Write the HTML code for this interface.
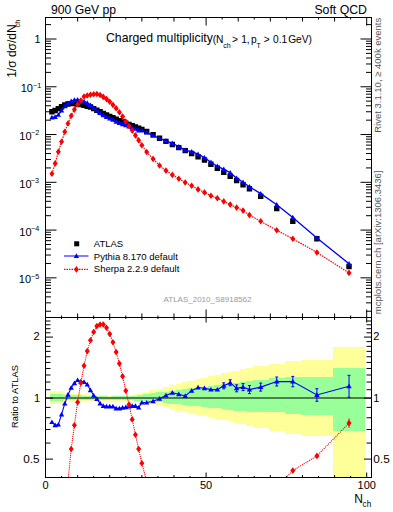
<!DOCTYPE html><html><head><meta charset="utf-8"><style>html,body{margin:0;padding:0;background:#fff;width:393px;height:512px;overflow:hidden;position:relative}</style></head><body><svg width="393" height="512" viewBox="0 0 393 512" style="position:absolute;left:0;top:0">
<rect width="393" height="512" fill="#fff"/>
<path d="M50.32,391.10H53.55V404.30H50.32ZM53.53,391.10H56.76V404.30H53.53ZM56.74,391.10H59.97V404.30H56.74ZM59.95,391.10H63.19V404.30H59.95ZM63.17,393.10H66.40V402.30H63.17ZM66.38,393.27H69.61V402.19H66.38ZM69.59,393.43H72.82V402.08H69.59ZM72.80,393.60H76.03V401.97H72.80ZM76.01,393.77H79.25V401.86H76.01ZM79.23,393.93H82.46V401.74H79.23ZM82.44,394.10H85.67V401.63H82.44ZM85.65,394.27H88.88V401.52H85.65ZM88.86,394.43H92.09V401.41H88.86ZM92.07,394.60H95.31V401.30H92.07ZM95.29,394.78H98.52V401.26H95.29ZM98.50,394.96H101.73V401.22H98.50ZM101.71,395.14H104.94V401.18H101.71ZM104.92,395.32H108.15V401.14H104.92ZM108.13,395.50H111.37V401.10H108.13ZM111.35,395.44H114.58V401.14H111.35ZM114.56,395.39H117.79V401.19H114.56ZM117.77,395.33H121.00V401.23H117.77ZM120.98,395.27H124.21V401.27H120.98ZM124.19,395.21H127.43V401.31H124.19ZM127.41,395.16H130.64V401.36H127.41ZM130.62,395.10H133.85V401.40H130.62ZM133.83,394.37H137.06V401.76H133.83ZM137.04,393.65H140.27V402.13H137.04ZM140.25,392.92H143.49V402.49H140.25ZM143.47,391.83H149.91V403.04H143.47ZM149.89,390.28H156.33V404.19H149.89ZM156.31,388.65H162.76V405.77H156.31ZM162.74,387.01H169.18V407.35H162.74ZM169.16,385.37H175.61V408.94H169.16ZM175.59,383.74H182.03V410.52H175.59ZM182.01,382.10H188.45V412.10H182.01ZM188.43,380.66H194.88V413.43H188.43ZM194.86,379.22H201.30V414.77H194.86ZM201.28,377.78H207.73V416.10H201.28ZM207.71,376.33H214.15V417.43H207.71ZM214.13,374.89H220.57V418.77H214.13ZM220.55,373.44H227.00V420.12H220.55ZM226.98,371.98H233.42V421.49H226.98ZM233.40,370.52H239.85V422.86H233.40ZM239.83,369.06H246.27V424.23H239.83ZM246.25,367.60H252.69V425.60H246.25ZM252.67,365.95H268.75V427.86H252.67ZM268.73,363.60H284.81V431.10H268.73ZM284.79,360.60H300.87V434.40H284.79ZM300.85,359.90H332.99V435.50H300.85ZM332.97,347.00H365.11V477.50H332.97Z" fill="#ffff99" shape-rendering="crispEdges"/>
<path d="M50.32,394.20H53.55V401.30H50.32ZM53.53,394.20H56.76V401.30H53.53ZM56.74,394.20H59.97V401.30H56.74ZM59.95,394.20H63.19V401.30H59.95ZM63.17,394.70H66.40V400.30H63.17ZM66.38,394.83H69.61V400.28H66.38ZM69.59,394.97H72.82V400.26H69.59ZM72.80,395.10H76.03V400.23H72.80ZM76.01,395.23H79.25V400.21H76.01ZM79.23,395.37H82.46V400.19H79.23ZM82.44,395.50H85.67V400.17H82.44ZM85.65,395.63H88.88V400.14H85.65ZM88.86,395.77H92.09V400.12H88.86ZM92.07,395.90H95.31V400.10H92.07ZM95.29,396.02H98.52V400.10H95.29ZM98.50,396.14H101.73V400.10H98.50ZM101.71,396.26H104.94V400.10H101.71ZM104.92,396.38H108.15V400.10H104.92ZM108.13,396.50H111.37V400.10H108.13ZM111.35,396.46H114.58V400.14H111.35ZM114.56,396.41H117.79V400.19H114.56ZM117.77,396.37H121.00V400.23H117.77ZM120.98,396.33H124.21V400.27H120.98ZM124.19,396.29H127.43V400.31H124.19ZM127.41,396.24H130.64V400.36H127.41ZM130.62,396.20H133.85V400.40H130.62ZM133.83,395.73H137.06V400.53H133.83ZM137.04,395.25H140.27V400.65H137.04ZM140.25,394.78H143.49V400.78H140.25ZM143.47,394.07H149.91V400.97H143.47ZM149.89,393.19H156.33V401.46H149.89ZM156.31,392.37H162.76V402.19H156.31ZM162.74,391.55H169.18V402.92H162.74ZM169.16,390.74H175.61V403.65H169.16ZM175.59,389.92H182.03V404.37H175.59ZM182.01,389.10H188.45V405.10H182.01ZM188.43,388.33H194.88V405.77H188.43ZM194.86,387.55H201.30V406.43H194.86ZM201.28,386.78H207.73V407.10H201.28ZM207.71,386.00H214.15V407.77H207.71ZM214.13,385.23H220.57V408.43H214.13ZM220.55,384.40H227.00V409.13H220.55ZM226.98,383.50H233.42V409.88H226.98ZM233.40,382.60H239.85V410.62H233.40ZM239.83,381.70H246.27V411.36H239.83ZM246.25,380.80H252.69V412.10H246.25ZM252.67,379.69H268.75V412.10H252.67ZM268.73,378.10H284.81V412.10H268.73ZM284.79,376.90H300.87V413.70H284.79ZM300.85,376.90H332.99V415.00H300.85ZM332.97,368.10H365.11V431.10H332.97Z" fill="#99ff99" shape-rendering="crispEdges"/>
<line x1="45.5" y1="398.0" x2="371.5" y2="398.0" stroke="#000" stroke-width="1"/>
<defs><clipPath id="cm"><rect x="45.5" y="17.5" width="326.0" height="300.0"/></clipPath><clipPath id="cr"><rect x="45.5" y="317.5" width="326.0" height="160.0"/></clipPath></defs>
<g clip-path="url(#cm)">
<polyline points="51.92,173.70 55.14,163.40 58.35,151.70 61.56,141.70 64.77,131.70 67.98,123.50 71.20,115.70 74.41,109.60 77.62,104.50 80.83,100.60 84.04,96.50 87.26,95.50 90.47,94.75 93.68,94.20 96.89,94.00 100.10,95.00 103.32,96.90 106.53,99.10 109.74,101.70 112.95,104.90 116.16,108.20 119.38,112.30 122.59,116.50 125.80,121.50 129.01,126.00 132.22,130.60 135.44,135.40 138.65,140.30 141.86,145.20 146.68,152.00 153.10,158.90 159.53,165.50 165.95,170.60 172.37,174.90 178.80,178.70 185.22,182.50 191.65,185.80 198.07,189.40 204.49,192.40 210.92,195.70 217.34,198.20 223.77,201.40 230.19,204.60 236.61,207.60 243.04,210.60 249.46,215.10 260.70,221.30 276.76,230.30 292.82,238.80 316.91,252.50 349.03,272.90" fill="none" stroke="#f00" stroke-width="1.2" stroke-dasharray="1.5,1"/>
<path d="M49.22,109.10h5.40v5.40h-5.40ZM52.44,107.80h5.40v5.40h-5.40ZM55.65,105.90h5.40v5.40h-5.40ZM58.86,104.00h5.40v5.40h-5.40ZM62.07,102.30h5.40v5.40h-5.40ZM65.28,101.30h5.40v5.40h-5.40ZM68.50,100.90h5.40v5.40h-5.40ZM71.71,100.80h5.40v5.40h-5.40ZM74.92,101.30h5.40v5.40h-5.40ZM78.13,101.90h5.40v5.40h-5.40ZM81.34,102.60h5.40v5.40h-5.40ZM84.56,103.50h5.40v5.40h-5.40ZM87.77,104.30h5.40v5.40h-5.40ZM90.98,105.90h5.40v5.40h-5.40ZM94.19,107.50h5.40v5.40h-5.40ZM97.40,109.10h5.40v5.40h-5.40ZM100.62,110.70h5.40v5.40h-5.40ZM103.83,112.20h5.40v5.40h-5.40ZM107.04,113.70h5.40v5.40h-5.40ZM110.25,115.10h5.40v5.40h-5.40ZM113.46,116.50h5.40v5.40h-5.40ZM116.68,117.90h5.40v5.40h-5.40ZM119.89,119.20h5.40v5.40h-5.40ZM123.10,120.50h5.40v5.40h-5.40ZM126.31,121.80h5.40v5.40h-5.40ZM129.52,123.10h5.40v5.40h-5.40ZM132.74,124.30h5.40v5.40h-5.40ZM135.95,125.50h5.40v5.40h-5.40ZM139.16,126.70h5.40v5.40h-5.40ZM143.98,128.80h5.40v5.40h-5.40ZM150.40,132.10h5.40v5.40h-5.40ZM156.83,135.50h5.40v5.40h-5.40ZM163.25,138.70h5.40v5.40h-5.40ZM169.67,141.80h5.40v5.40h-5.40ZM176.10,144.90h5.40v5.40h-5.40ZM182.52,147.90h5.40v5.40h-5.40ZM188.95,150.80h5.40v5.40h-5.40ZM195.37,154.00h5.40v5.40h-5.40ZM201.79,157.30h5.40v5.40h-5.40ZM208.22,161.50h5.40v5.40h-5.40ZM214.64,165.50h5.40v5.40h-5.40ZM221.07,169.50h5.40v5.40h-5.40ZM227.49,173.60h5.40v5.40h-5.40ZM233.91,177.80h5.40v5.40h-5.40ZM240.34,182.10h5.40v5.40h-5.40ZM246.76,186.10h5.40v5.40h-5.40ZM258.00,193.50h5.40v5.40h-5.40ZM274.06,205.90h5.40v5.40h-5.40ZM290.12,218.60h5.40v5.40h-5.40ZM314.21,236.00h5.40v5.40h-5.40ZM346.33,263.80h5.40v5.40h-5.40Z" fill="#000"/>
<polyline points="51.92,117.46 55.14,116.91 58.35,114.85 61.56,110.54 64.77,106.30 67.98,103.20 71.20,101.15 74.41,100.01 77.62,99.76 80.83,100.66 84.04,101.51 87.26,102.99 90.47,105.16 93.68,107.99 96.89,110.39 100.10,113.05 103.32,115.24 106.53,116.88 109.74,118.38 112.95,119.78 116.16,121.63 119.38,123.03 122.59,124.19 125.80,125.34 129.01,126.48 132.22,127.64 135.44,128.84 138.65,130.44 141.86,130.46 146.68,132.56 153.10,135.53 159.53,138.34 165.95,140.79 172.37,143.25 178.80,146.68 185.22,150.11 191.65,151.76 198.07,154.20 204.49,157.67 210.92,162.20 217.34,166.20 223.77,169.30 230.19,172.67 236.61,178.19 243.04,182.21 249.46,186.80 260.70,193.61 276.76,204.69 292.82,217.41 316.91,237.97 349.03,263.72" fill="none" stroke="#00f" stroke-width="1.35"/>
<path d="M51.92,114.76L54.62,119.48L49.22,119.48ZM55.14,114.21L57.84,118.94L52.44,118.94ZM58.35,112.15L61.05,116.87L55.65,116.87ZM61.56,107.84L64.26,112.57L58.86,112.57ZM64.77,103.60L67.47,108.32L62.07,108.32ZM67.98,100.50L70.68,105.22L65.28,105.22ZM71.20,98.45L73.90,103.17L68.50,103.17ZM74.41,97.31L77.11,102.04L71.71,102.04ZM77.62,97.06L80.32,101.78L74.92,101.78ZM80.83,97.96L83.53,102.69L78.13,102.69ZM84.04,98.81L86.74,103.53L81.34,103.53ZM87.26,100.29L89.96,105.02L84.56,105.02ZM90.47,102.46L93.17,107.19L87.77,107.19ZM93.68,105.29L96.38,110.01L90.98,110.01ZM96.89,107.69L99.59,112.41L94.19,112.41ZM100.10,110.35L102.80,115.07L97.40,115.07ZM103.32,112.54L106.02,117.26L100.62,117.26ZM106.53,114.18L109.23,118.90L103.83,118.90ZM109.74,115.68L112.44,120.40L107.04,120.40ZM112.95,117.08L115.65,121.80L110.25,121.80ZM116.16,118.93L118.86,123.65L113.46,123.65ZM119.38,120.33L122.08,125.05L116.68,125.05ZM122.59,121.49L125.29,126.21L119.89,126.21ZM125.80,122.64L128.50,127.37L123.10,127.37ZM129.01,123.78L131.71,128.50L126.31,128.50ZM132.22,124.94L134.92,129.66L129.52,129.66ZM135.44,126.14L138.14,130.86L132.74,130.86ZM138.65,127.74L141.35,132.46L135.95,132.46ZM141.86,127.76L144.56,132.49L139.16,132.49ZM146.68,129.86L149.38,134.59L143.98,134.59ZM153.10,132.83L155.80,137.56L150.40,137.56ZM159.53,135.64L162.23,140.37L156.83,140.37ZM165.95,138.09L168.65,142.81L163.25,142.81ZM172.37,140.55L175.07,145.28L169.67,145.28ZM178.80,143.98L181.50,148.71L176.10,148.71ZM185.22,147.41L187.92,152.13L182.52,152.13ZM191.65,149.06L194.35,153.78L188.95,153.78ZM198.07,151.50L200.77,156.23L195.37,156.23ZM204.49,154.97L207.19,159.69L201.79,159.69ZM210.92,159.50L213.62,164.22L208.22,164.22ZM217.34,163.50L220.04,168.22L214.64,168.22ZM223.77,166.60L226.47,171.33L221.07,171.33ZM230.19,169.97L232.89,174.70L227.49,174.70ZM236.61,175.49L239.31,180.22L233.91,180.22ZM243.04,179.51L245.74,184.23L240.34,184.23ZM249.46,184.10L252.16,188.82L246.76,188.82ZM260.70,190.91L263.40,195.63L258.00,195.63ZM276.76,201.99L279.46,206.71L274.06,206.71ZM292.82,214.71L295.52,219.44L290.12,219.44ZM316.91,235.27L319.61,239.99L314.21,239.99ZM349.03,261.02L351.73,265.74L346.33,265.74Z" fill="#00f"/>
<path d="M51.92,170.40L54.42,173.70L51.92,177.00L49.42,173.70ZM55.14,160.10L57.64,163.40L55.14,166.70L52.64,163.40ZM58.35,148.40L60.85,151.70L58.35,155.00L55.85,151.70ZM61.56,138.40L64.06,141.70L61.56,145.00L59.06,141.70ZM64.77,128.40L67.27,131.70L64.77,135.00L62.27,131.70ZM67.98,120.20L70.48,123.50L67.98,126.80L65.48,123.50ZM71.20,112.40L73.70,115.70L71.20,119.00L68.70,115.70ZM74.41,106.30L76.91,109.60L74.41,112.90L71.91,109.60ZM77.62,101.20L80.12,104.50L77.62,107.80L75.12,104.50ZM80.83,97.30L83.33,100.60L80.83,103.90L78.33,100.60ZM84.04,93.20L86.54,96.50L84.04,99.80L81.54,96.50ZM87.26,92.20L89.76,95.50L87.26,98.80L84.76,95.50ZM90.47,91.45L92.97,94.75L90.47,98.05L87.97,94.75ZM93.68,90.90L96.18,94.20L93.68,97.50L91.18,94.20ZM96.89,90.70L99.39,94.00L96.89,97.30L94.39,94.00ZM100.10,91.70L102.60,95.00L100.10,98.30L97.60,95.00ZM103.32,93.60L105.82,96.90L103.32,100.20L100.82,96.90ZM106.53,95.80L109.03,99.10L106.53,102.40L104.03,99.10ZM109.74,98.40L112.24,101.70L109.74,105.00L107.24,101.70ZM112.95,101.60L115.45,104.90L112.95,108.20L110.45,104.90ZM116.16,104.90L118.66,108.20L116.16,111.50L113.66,108.20ZM119.38,109.00L121.88,112.30L119.38,115.60L116.88,112.30ZM122.59,113.20L125.09,116.50L122.59,119.80L120.09,116.50ZM125.80,118.20L128.30,121.50L125.80,124.80L123.30,121.50ZM129.01,122.70L131.51,126.00L129.01,129.30L126.51,126.00ZM132.22,127.30L134.72,130.60L132.22,133.90L129.72,130.60ZM135.44,132.10L137.94,135.40L135.44,138.70L132.94,135.40ZM138.65,137.00L141.15,140.30L138.65,143.60L136.15,140.30ZM141.86,141.90L144.36,145.20L141.86,148.50L139.36,145.20ZM146.68,148.70L149.18,152.00L146.68,155.30L144.18,152.00ZM153.10,155.60L155.60,158.90L153.10,162.20L150.60,158.90ZM159.53,162.20L162.03,165.50L159.53,168.80L157.03,165.50ZM165.95,167.30L168.45,170.60L165.95,173.90L163.45,170.60ZM172.37,171.60L174.87,174.90L172.37,178.20L169.87,174.90ZM178.80,175.40L181.30,178.70L178.80,182.00L176.30,178.70ZM185.22,179.20L187.72,182.50L185.22,185.80L182.72,182.50ZM191.65,182.50L194.15,185.80L191.65,189.10L189.15,185.80ZM198.07,186.10L200.57,189.40L198.07,192.70L195.57,189.40ZM204.49,189.10L206.99,192.40L204.49,195.70L201.99,192.40ZM210.92,192.40L213.42,195.70L210.92,199.00L208.42,195.70ZM217.34,194.90L219.84,198.20L217.34,201.50L214.84,198.20ZM223.77,198.10L226.27,201.40L223.77,204.70L221.27,201.40ZM230.19,201.30L232.69,204.60L230.19,207.90L227.69,204.60ZM236.61,204.30L239.11,207.60L236.61,210.90L234.11,207.60ZM243.04,207.30L245.54,210.60L243.04,213.90L240.54,210.60ZM249.46,211.80L251.96,215.10L249.46,218.40L246.96,215.10ZM260.70,218.00L263.20,221.30L260.70,224.60L258.20,221.30ZM276.76,227.00L279.26,230.30L276.76,233.60L274.26,230.30ZM292.82,235.50L295.32,238.80L292.82,242.10L290.32,238.80ZM316.91,249.20L319.41,252.50L316.91,255.80L314.41,252.50ZM349.03,269.60L351.53,272.90L349.03,276.20L346.53,272.90Z" fill="#f00"/>
</g>
<g clip-path="url(#cr)">
<polyline points="67.98,481.00 71.20,449.00 74.41,425.20 77.62,402.30 80.83,383.00 84.04,365.80 87.26,351.10 90.47,340.30 93.68,332.00 96.89,326.10 100.10,324.50 103.32,324.50 106.53,327.80 109.74,334.00 112.95,342.30 116.16,352.10 119.38,363.60 122.59,376.30 125.80,390.80 129.01,404.50 132.22,419.40 135.44,434.70 138.65,449.00 141.86,463.30 146.68,481.50" fill="none" stroke="#f00" stroke-width="1.05" stroke-dasharray="1.2,0.9"/>
<polyline points="276.76,487.00 292.82,470.60 316.91,455.90 349.03,423.10" fill="none" stroke="#f00" stroke-width="1.05" stroke-dasharray="1.2,0.9"/>
<line x1="349.03" y1="418.4" x2="349.03" y2="427.8" stroke="#f00" stroke-width="1"/>
<polyline points="51.92,422.10 55.14,425.30 58.35,424.60 61.56,414.40 64.77,403.60 67.98,394.70 71.20,387.70 74.41,383.30 77.62,380.10 80.83,381.40 84.04,382.00 87.26,384.50 90.47,390.30 93.68,395.50 96.89,398.90 100.10,403.40 103.32,405.90 106.53,406.50 109.74,406.50 112.95,406.50 116.16,408.40 119.38,408.40 122.59,407.80 125.80,407.20 129.01,406.50 132.22,405.90 135.44,405.90 138.65,407.60 141.86,402.60 146.68,402.60 153.10,401.20 159.53,398.70 165.95,395.50 172.37,392.80 178.80,394.20 185.22,396.00 191.65,390.70 198.07,387.50 204.49,388.20 210.92,389.60 217.34,389.60 223.77,385.80 230.19,382.70 236.61,388.30 243.04,387.10 249.46,389.60 260.70,387.10 276.76,381.50 292.82,381.60 316.91,395.00 349.03,386.30" fill="none" stroke="#00f" stroke-width="1.1"/>
<path d="M223.77,382.80V388.80M222.27,382.80h3M222.27,388.80h3" stroke="#00f" stroke-width="1" fill="none"/>
<path d="M230.19,379.70V385.70M228.69,379.70h3M228.69,385.70h3" stroke="#00f" stroke-width="1" fill="none"/>
<path d="M236.61,384.80V391.80M235.11,384.80h3M235.11,391.80h3" stroke="#00f" stroke-width="1" fill="none"/>
<path d="M243.04,383.60V390.60M241.54,383.60h3M241.54,390.60h3" stroke="#00f" stroke-width="1" fill="none"/>
<path d="M249.46,385.60V393.60M247.96,385.60h3M247.96,393.60h3" stroke="#00f" stroke-width="1" fill="none"/>
<path d="M260.70,383.10V391.10M259.20,383.10h3M259.20,391.10h3" stroke="#00f" stroke-width="1" fill="none"/>
<path d="M276.76,377.00V386.00M275.26,377.00h3M275.26,386.00h3" stroke="#00f" stroke-width="1" fill="none"/>
<path d="M292.82,376.40V386.80M291.32,376.40h3M291.32,386.80h3" stroke="#00f" stroke-width="1" fill="none"/>
<path d="M316.91,388.70V401.30M315.41,388.70h3M315.41,401.30h3" stroke="#00f" stroke-width="1" fill="none"/>
<path d="M349.03,375.30V397.30M347.53,375.30h3M347.53,397.30h3" stroke="#00f" stroke-width="1" fill="none"/>
<path d="M51.92,419.40L54.62,424.12L49.22,424.12ZM55.14,422.60L57.84,427.32L52.44,427.32ZM58.35,421.90L61.05,426.62L55.65,426.62ZM61.56,411.70L64.26,416.42L58.86,416.42ZM64.77,400.90L67.47,405.62L62.07,405.62ZM67.98,392.00L70.68,396.72L65.28,396.72ZM71.20,385.00L73.90,389.72L68.50,389.72ZM74.41,380.60L77.11,385.32L71.71,385.32ZM77.62,377.40L80.32,382.12L74.92,382.12ZM80.83,378.70L83.53,383.42L78.13,383.42ZM84.04,379.30L86.74,384.02L81.34,384.02ZM87.26,381.80L89.96,386.52L84.56,386.52ZM90.47,387.60L93.17,392.32L87.77,392.32ZM93.68,392.80L96.38,397.52L90.98,397.52ZM96.89,396.20L99.59,400.92L94.19,400.92ZM100.10,400.70L102.80,405.42L97.40,405.42ZM103.32,403.20L106.02,407.92L100.62,407.92ZM106.53,403.80L109.23,408.52L103.83,408.52ZM109.74,403.80L112.44,408.52L107.04,408.52ZM112.95,403.80L115.65,408.52L110.25,408.52ZM116.16,405.70L118.86,410.42L113.46,410.42ZM119.38,405.70L122.08,410.42L116.68,410.42ZM122.59,405.10L125.29,409.82L119.89,409.82ZM125.80,404.50L128.50,409.22L123.10,409.22ZM129.01,403.80L131.71,408.52L126.31,408.52ZM132.22,403.20L134.92,407.92L129.52,407.92ZM135.44,403.20L138.14,407.92L132.74,407.92ZM138.65,404.90L141.35,409.62L135.95,409.62ZM141.86,399.90L144.56,404.62L139.16,404.62ZM146.68,399.90L149.38,404.62L143.98,404.62ZM153.10,398.50L155.80,403.22L150.40,403.22ZM159.53,396.00L162.23,400.72L156.83,400.72ZM165.95,392.80L168.65,397.52L163.25,397.52ZM172.37,390.10L175.07,394.82L169.67,394.82ZM178.80,391.50L181.50,396.22L176.10,396.22ZM185.22,393.30L187.92,398.02L182.52,398.02ZM191.65,388.00L194.35,392.72L188.95,392.72ZM198.07,384.80L200.77,389.52L195.37,389.52ZM204.49,385.50L207.19,390.22L201.79,390.22ZM210.92,386.90L213.62,391.62L208.22,391.62ZM217.34,386.90L220.04,391.62L214.64,391.62ZM223.77,383.10L226.47,387.82L221.07,387.82ZM230.19,380.00L232.89,384.72L227.49,384.72ZM236.61,385.60L239.31,390.32L233.91,390.32ZM243.04,384.40L245.74,389.12L240.34,389.12ZM249.46,386.90L252.16,391.62L246.76,391.62ZM260.70,384.40L263.40,389.12L258.00,389.12ZM276.76,378.80L279.46,383.52L274.06,383.52ZM292.82,378.90L295.52,383.62L290.12,383.62ZM316.91,392.30L319.61,397.02L314.21,397.02ZM349.03,383.60L351.73,388.32L346.33,388.32Z" fill="#00f"/>
<path d="M71.20,445.70L73.70,449.00L71.20,452.30L68.70,449.00ZM74.41,421.90L76.91,425.20L74.41,428.50L71.91,425.20ZM77.62,399.00L80.12,402.30L77.62,405.60L75.12,402.30ZM80.83,379.70L83.33,383.00L80.83,386.30L78.33,383.00ZM84.04,362.50L86.54,365.80L84.04,369.10L81.54,365.80ZM87.26,347.80L89.76,351.10L87.26,354.40L84.76,351.10ZM90.47,337.00L92.97,340.30L90.47,343.60L87.97,340.30ZM93.68,328.70L96.18,332.00L93.68,335.30L91.18,332.00ZM96.89,322.80L99.39,326.10L96.89,329.40L94.39,326.10ZM100.10,321.20L102.60,324.50L100.10,327.80L97.60,324.50ZM103.32,321.20L105.82,324.50L103.32,327.80L100.82,324.50ZM106.53,324.50L109.03,327.80L106.53,331.10L104.03,327.80ZM109.74,330.70L112.24,334.00L109.74,337.30L107.24,334.00ZM112.95,339.00L115.45,342.30L112.95,345.60L110.45,342.30ZM116.16,348.80L118.66,352.10L116.16,355.40L113.66,352.10ZM119.38,360.30L121.88,363.60L119.38,366.90L116.88,363.60ZM122.59,373.00L125.09,376.30L122.59,379.60L120.09,376.30ZM125.80,387.50L128.30,390.80L125.80,394.10L123.30,390.80ZM129.01,401.20L131.51,404.50L129.01,407.80L126.51,404.50ZM132.22,416.10L134.72,419.40L132.22,422.70L129.72,419.40ZM135.44,431.40L137.94,434.70L135.44,438.00L132.94,434.70ZM138.65,445.70L141.15,449.00L138.65,452.30L136.15,449.00ZM141.86,460.00L144.36,463.30L141.86,466.60L139.36,463.30ZM292.82,467.30L295.32,470.60L292.82,473.90L290.32,470.60ZM316.91,452.60L319.41,455.90L316.91,459.20L314.41,455.90ZM349.03,419.80L351.53,423.10L349.03,426.40L346.53,423.10Z" fill="#f00"/>
</g>
<rect x="45.5" y="17.5" width="326.0" height="300.0" fill="none" stroke="#000" stroke-width="1"/>
<rect x="45.5" y="317.5" width="326.0" height="160.0" fill="none" stroke="#000" stroke-width="1"/>
<path d="M45.50,17.5v8M45.50,317.5v-8M45.50,317.5v5M45.50,477.5v-5M61.56,17.5v2M61.56,317.5v-2M61.56,317.5v1.5M61.56,477.5v-1.5M77.62,17.5v4M77.62,317.5v-4M77.62,317.5v2.5M77.62,477.5v-2.5M93.68,17.5v2M93.68,317.5v-2M93.68,317.5v1.5M93.68,477.5v-1.5M109.74,17.5v4M109.74,317.5v-4M109.74,317.5v2.5M109.74,477.5v-2.5M125.80,17.5v2M125.80,317.5v-2M125.80,317.5v1.5M125.80,477.5v-1.5M141.86,17.5v4M141.86,317.5v-4M141.86,317.5v2.5M141.86,477.5v-2.5M157.92,17.5v2M157.92,317.5v-2M157.92,317.5v1.5M157.92,477.5v-1.5M173.98,17.5v4M173.98,317.5v-4M173.98,317.5v2.5M173.98,477.5v-2.5M190.04,17.5v2M190.04,317.5v-2M190.04,317.5v1.5M190.04,477.5v-1.5M206.10,17.5v8M206.10,317.5v-8M206.10,317.5v5M206.10,477.5v-5M222.16,17.5v2M222.16,317.5v-2M222.16,317.5v1.5M222.16,477.5v-1.5M238.22,17.5v4M238.22,317.5v-4M238.22,317.5v2.5M238.22,477.5v-2.5M254.28,17.5v2M254.28,317.5v-2M254.28,317.5v1.5M254.28,477.5v-1.5M270.34,17.5v4M270.34,317.5v-4M270.34,317.5v2.5M270.34,477.5v-2.5M286.40,17.5v2M286.40,317.5v-2M286.40,317.5v1.5M286.40,477.5v-1.5M302.46,17.5v4M302.46,317.5v-4M302.46,317.5v2.5M302.46,477.5v-2.5M318.52,17.5v2M318.52,317.5v-2M318.52,317.5v1.5M318.52,477.5v-1.5M334.58,17.5v4M334.58,317.5v-4M334.58,317.5v2.5M334.58,477.5v-2.5M350.64,17.5v2M350.64,317.5v-2M350.64,317.5v1.5M350.64,477.5v-1.5M366.70,17.5v8M366.70,317.5v-8M366.70,317.5v5M366.70,477.5v-5M45.5,39.00h11M371.5,39.00h-11M45.5,24.62h5.5M371.5,24.62h-5.5M45.5,86.77h11M371.5,86.77h-11M45.5,72.39h5.5M371.5,72.39h-5.5M45.5,63.98h5.5M371.5,63.98h-5.5M45.5,58.01h5.5M371.5,58.01h-5.5M45.5,53.38h5.5M371.5,53.38h-5.5M45.5,49.60h5.5M371.5,49.60h-5.5M45.5,46.40h5.5M371.5,46.40h-5.5M45.5,43.63h5.5M371.5,43.63h-5.5M45.5,41.19h5.5M371.5,41.19h-5.5M45.5,134.54h11M371.5,134.54h-11M45.5,120.16h5.5M371.5,120.16h-5.5M45.5,111.75h5.5M371.5,111.75h-5.5M45.5,105.78h5.5M371.5,105.78h-5.5M45.5,101.15h5.5M371.5,101.15h-5.5M45.5,97.37h5.5M371.5,97.37h-5.5M45.5,94.17h5.5M371.5,94.17h-5.5M45.5,91.40h5.5M371.5,91.40h-5.5M45.5,88.96h5.5M371.5,88.96h-5.5M45.5,182.31h11M371.5,182.31h-11M45.5,167.93h5.5M371.5,167.93h-5.5M45.5,159.52h5.5M371.5,159.52h-5.5M45.5,153.55h5.5M371.5,153.55h-5.5M45.5,148.92h5.5M371.5,148.92h-5.5M45.5,145.14h5.5M371.5,145.14h-5.5M45.5,141.94h5.5M371.5,141.94h-5.5M45.5,139.17h5.5M371.5,139.17h-5.5M45.5,136.73h5.5M371.5,136.73h-5.5M45.5,230.08h11M371.5,230.08h-11M45.5,215.70h5.5M371.5,215.70h-5.5M45.5,207.29h5.5M371.5,207.29h-5.5M45.5,201.32h5.5M371.5,201.32h-5.5M45.5,196.69h5.5M371.5,196.69h-5.5M45.5,192.91h5.5M371.5,192.91h-5.5M45.5,189.71h5.5M371.5,189.71h-5.5M45.5,186.94h5.5M371.5,186.94h-5.5M45.5,184.50h5.5M371.5,184.50h-5.5M45.5,277.85h11M371.5,277.85h-11M45.5,263.47h5.5M371.5,263.47h-5.5M45.5,255.06h5.5M371.5,255.06h-5.5M45.5,249.09h5.5M371.5,249.09h-5.5M45.5,244.46h5.5M371.5,244.46h-5.5M45.5,240.68h5.5M371.5,240.68h-5.5M45.5,237.48h5.5M371.5,237.48h-5.5M45.5,234.71h5.5M371.5,234.71h-5.5M45.5,232.27h5.5M371.5,232.27h-5.5M45.5,311.24h5.5M371.5,311.24h-5.5M45.5,302.83h5.5M371.5,302.83h-5.5M45.5,296.86h5.5M371.5,296.86h-5.5M45.5,292.23h5.5M371.5,292.23h-5.5M45.5,288.45h5.5M371.5,288.45h-5.5M45.5,285.25h5.5M371.5,285.25h-5.5M45.5,282.48h5.5M371.5,282.48h-5.5M45.5,280.04h5.5M371.5,280.04h-5.5M45.5,459.12h7.5M371.5,459.12h-7.5M45.5,443.07h5M371.5,443.07h-5M45.5,429.50h5M371.5,429.50h-5M45.5,417.74h5M371.5,417.74h-5M45.5,407.38h5M371.5,407.38h-5M45.5,398.10h7.5M371.5,398.10h-7.5M45.5,389.71h5M371.5,389.71h-5M45.5,382.05h5M371.5,382.05h-5M45.5,375.00h5M371.5,375.00h-5M45.5,368.48h5M371.5,368.48h-5M45.5,362.41h5M371.5,362.41h-5M45.5,356.72h5M371.5,356.72h-5M45.5,351.39h5M371.5,351.39h-5M45.5,346.36h5M371.5,346.36h-5M45.5,341.60h5M371.5,341.60h-5M45.5,337.08h7.5M371.5,337.08h-7.5M45.5,332.79h5M371.5,332.79h-5M45.5,328.69h5M371.5,328.69h-5M45.5,324.78h5M371.5,324.78h-5M45.5,321.03h5M371.5,321.03h-5" stroke="#000" stroke-width="1" fill="none"/>
<g font-family="Liberation Sans, sans-serif" fill="#000">
<text x="51" y="14" font-size="12.2">900 GeV pp</text>
<text x="367" y="14" font-size="12.3" text-anchor="end">Soft QCD</text>
<text x="106" y="42.4" font-size="12.25">Charged multiplicity</text>
<text x="212.7" y="42.5" font-size="10.2">(N</text>
<text x="223.2" y="47.8" font-size="7">ch</text>
<text x="232" y="42.5" font-size="10.2">&gt;</text>
<text x="241.2" y="42.5" font-size="10.2">1,</text>
<text x="251" y="42.5" font-size="10.2">p</text>
<text x="256.6" y="48" font-size="7">T</text>
<text x="263.8" y="42.5" font-size="10.2">&gt;</text>
<text x="273" y="42.5" font-size="10.2">0.1</text>
<text x="288.2" y="42.5" font-size="10.2">GeV)</text>
<text x="40.6" y="42.8" font-size="10.8" text-anchor="end">1</text>
<text x="33.0" y="92.37" font-size="11" text-anchor="end">10</text>
<text x="33.0" y="87.67" font-size="7.2">&#8722;1</text>
<text x="31.6" y="140.14" font-size="11" text-anchor="end">10</text>
<text x="31.1" y="135.44" font-size="7.2">&#8722;2</text>
<text x="31.6" y="187.91" font-size="11" text-anchor="end">10</text>
<text x="30.7" y="183.21" font-size="7.2">&#8722;3</text>
<text x="31.6" y="235.68" font-size="11" text-anchor="end">10</text>
<text x="31.1" y="230.98" font-size="7.2">&#8722;4</text>
<text x="31.1" y="283.45" font-size="11" text-anchor="end">10</text>
<text x="31.0" y="278.75" font-size="7.2">&#8722;5</text>
<text transform="translate(15.8,77.8) rotate(-90)" font-size="12">1/&#963; d&#963;/dN</text>
<text transform="translate(20.2,27.4) rotate(-90)" font-size="7.5">ch</text>
<text x="39.5" y="340.48" font-size="11" text-anchor="end">2</text>
<text x="373.3" y="340.48" font-size="11">2</text>
<text x="40.1" y="401.50" font-size="11" text-anchor="end">1</text>
<text x="373.3" y="401.50" font-size="11">1</text>
<text x="39.7" y="462.52" font-size="11.8" text-anchor="end">0.5</text>
<text x="373.3" y="462.52" font-size="11.8">0.5</text>
<text transform="translate(18.1,428) rotate(-90)" font-size="9.3">Ratio to ATLAS</text>
<text x="45.50" y="489" font-size="11" text-anchor="middle">0</text>
<text x="206.10" y="489" font-size="11" text-anchor="middle">50</text>
<text x="366.70" y="489" font-size="11" text-anchor="middle">100</text>
<text x="354.3" y="503" font-size="12">N</text>
<text x="362.6" y="506.5" font-size="8.2">ch</text>
<rect x="74.2" y="241.3" width="5" height="5" fill="#000"/>
<text x="93.8" y="246.5" font-size="9.5">ATLAS</text>
<line x1="64" y1="256" x2="88.5" y2="256" stroke="#00f" stroke-width="1"/>
<path d="M76.40,253.30L79.10,258.02L73.70,258.02Z" fill="#00f"/>
<text x="93.8" y="259.5" font-size="9.5">Pythia 8.170 default</text>
<line x1="64" y1="269.4" x2="88.5" y2="269.4" stroke="#f00" stroke-width="1.2" stroke-dasharray="1.5,1"/>
<path d="M76.40,266.10L78.90,269.40L76.40,272.70L73.90,269.40Z" fill="#f00"/>
<text x="93.8" y="272.2" font-size="9.5">Sherpa 2.2.9 default</text>
</g>
<text x="163.5" y="301.8" font-size="8" fill="#999" font-family="Liberation Sans, sans-serif">ATLAS_2010_S8918562</text>
<text transform="translate(380.6,132.8) rotate(-90)" font-size="9.5" fill="#555" font-family="Liberation Sans, sans-serif">Rivet 3.1.10, &#8805; 400k events</text>
<text transform="translate(380.6,314.2) rotate(-90)" font-size="9.5" fill="#555" font-family="Liberation Sans, sans-serif">mcplots.cern.ch [arXiv:1306.3436]</text>
</svg></body></html>
